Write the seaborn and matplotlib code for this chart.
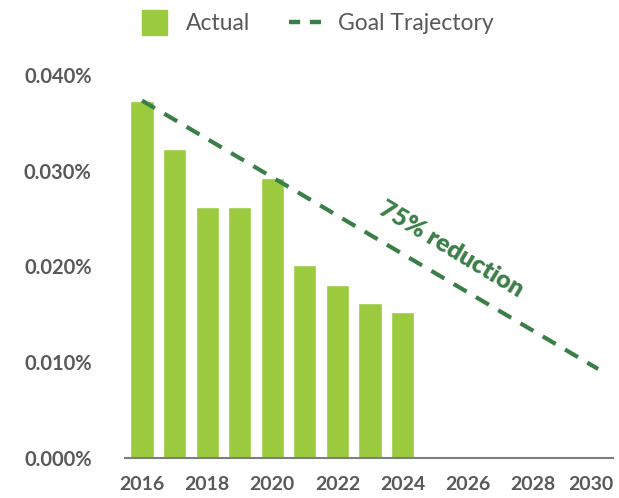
import matplotlib
matplotlib.use("Agg")
import matplotlib.pyplot as plt
import matplotlib.transforms as mtransforms
import seaborn as sns
import pandas as pd
from matplotlib.lines import Line2D
from matplotlib.ticker import FuncFormatter

# data (values in %)
years = [2016, 2017, 2018, 2019, 2020, 2021, 2022, 2023, 2024]
actual = [0.0373, 0.0323, 0.0262, 0.0262, 0.0292, 0.0202, 0.0181, 0.0162, 0.0152]
goal_years = [2016, 2030]
goal_values = [0.0373, 0.0093]
x_ticks = [2016, 2018, 2020, 2022, 2024, 2026, 2028, 2030]
y_ticks = [0.0, 0.01, 0.02, 0.03, 0.04]

bar_color = "#9BCA3E"
line_color = "#3B7F48"
text_gray = "#595959"

sns.set_style("white")
plt.rcParams["font.family"] = ["Lato", "DejaVu Sans"]

df_bars = pd.DataFrame({"year": years, "value": actual})
df_goal = pd.DataFrame({"year": goal_years, "value": goal_values})

fig = plt.figure(figsize=(6.19, 4.98), dpi=100)
ax = fig.add_axes([0.202, 0.08, 0.788, 0.77])

sns.barplot(data=df_bars, x="year", y="value", native_scale=True, width=0.71,
            color=bar_color, saturation=1, ax=ax)
sns.lineplot(data=df_goal, x="year", y="value", color=line_color, lw=3.0,
             dashes=False, ax=ax)
ax.lines[-1].set_dashes([3.6, 2.6])

ax.set_xlim(2015.48, 2030.45)
ax.set_ylim(0, 0.04)
ax.set_xticks(x_ticks)
ax.set_yticks(y_ticks)
ax.yaxis.set_major_formatter(FuncFormatter(lambda v, p: f"{v:.3f}%"))
ax.tick_params(axis="x", labelsize=14, colors=text_gray, length=0, pad=13)
ax.tick_params(axis="y", labelsize=14.5, colors=text_gray, length=0, pad=24)
for lab in ax.get_xticklabels() + ax.get_yticklabels():
    lab.set_fontweight("bold")
# last year label sits a little inside the right edge
last = ax.get_xticklabels()[-1]
last.set_transform(last.get_transform() + mtransforms.ScaledTranslation(-7 / 100, 0, fig.dpi_scale_trans))
ax.set_xlabel("")
ax.set_ylabel("")

sns.despine(ax=ax, left=True)
ax.spines["bottom"].set_color("#7f7f7f")
ax.spines["bottom"].set_linewidth(1.5)

ax.text(2025.5, 0.0218, "75% reduction", rotation=-31, rotation_mode="anchor",
        ha="center", va="center", fontsize=18, fontweight="heavy", color=line_color)

handles = [Line2D([0], [0], color=bar_color, marker="s", markersize=18, linestyle="none",
                  label="Actual"),
           Line2D([0], [0], color=line_color, lw=3.2, dashes=[2.5, 2.2],
                  label="Goal Trajectory")]
fig.legend(handles=handles, loc="center", bbox_to_anchor=(0.51, 0.953), ncol=2,
           frameon=False, fontsize=16.5, labelcolor=text_gray, handlelength=1.4,
           columnspacing=1.7, handletextpad=0.7)

fig.savefig("out.png", dpi=100)
